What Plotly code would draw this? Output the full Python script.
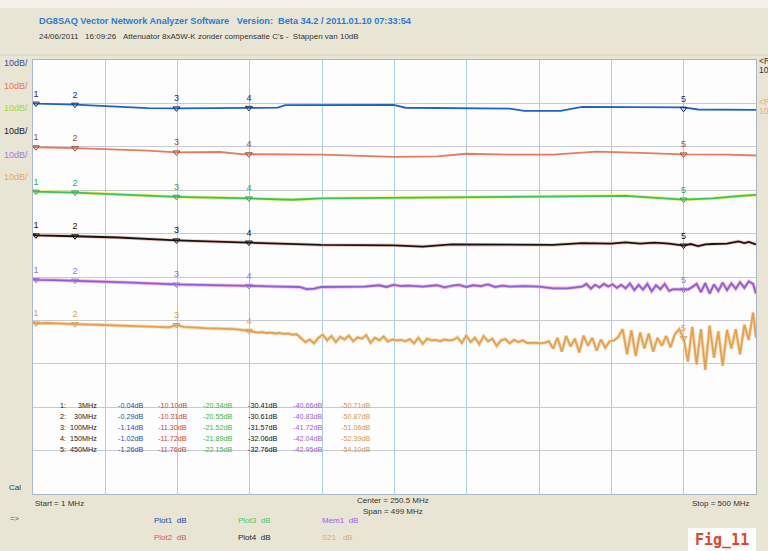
import plotly.graph_objects as go

# ---------------- data ----------------
marker_ids = ["1", "2", "3", "4", "5"]
marker_freq = [3, 30, 100, 150, 450]
marker_freq_text = ["3MHz", "30MHz", "100MHz", "150MHz", "450MHz"]

plot1_marker_db = [-0.04, -0.29, -1.14, -1.02, -1.26]
plot2_marker_db = [-10.10, -10.31, -11.30, -11.72, -11.76]
plot3_marker_db = [-20.34, -20.55, -21.52, -21.89, -22.15]
plot4_marker_db = [-30.41, -30.61, -31.57, -32.06, -32.76]
mem1_marker_db = [-40.66, -40.83, -41.72, -42.04, -42.95]
s21_marker_db = [-50.71, -50.87, -51.06, -52.39, -54.10]

plot1_freq = [1, 3, 30, 60, 80, 100, 130, 150, 170, 175, 250, 258, 330, 340, 365, 380, 450, 460, 500]
plot1_db = [0.0, -0.04, -0.29, -0.8, -1.1, -1.14, -1.15, -1.02, -0.97, -0.4, -0.35, -1.0, -1.2, -1.7, -1.7, -0.8, -0.9, -1.4, -1.5]

plot2_freq = [1, 3, 30, 60, 80, 100, 130, 145, 150, 200, 250, 280, 300, 330, 360, 390, 420, 450, 480, 500]
plot2_db = [-10.0, -10.1, -10.31, -10.6, -10.9, -11.3, -11.2, -11.7, -11.72, -11.8, -12.3, -12.2, -11.6, -11.8, -11.8, -11.1, -11.4, -11.76, -11.8, -12.0]

plot3_freq = [1, 3, 30, 50, 100, 150, 180, 200, 260, 330, 360, 410, 450, 470, 490, 500]
plot3_db = [-20.2, -20.34, -20.55, -20.8, -21.52, -21.89, -22.2, -21.9, -21.7, -21.6, -21.4, -21.3, -22.15, -21.9, -21.3, -21.1]

plot4_freq = [1, 3, 30, 60, 100, 150, 180, 200, 250, 270, 290, 330, 360, 380, 400, 410, 420, 430,
              440, 450, 455, 460, 465, 470, 480, 488, 492, 495, 500]
plot4_db = [-30.2, -30.41, -30.61, -30.9, -31.57, -32.06, -32.4, -32.6, -32.7, -33.0, -32.5, -32.6, -32.6, -32.2, -32.3, -32.0, -32.3, -32.1,
            -32.3, -32.76, -32.4, -32.9, -32.5, -32.4, -32.3, -31.8, -32.2, -31.9, -32.5]

mem1_freq = [1, 3, 15, 30, 50, 70, 100, 130, 150, 170, 185, 190, 195, 200, 230, 240, 245, 250, 255, 260,
             270, 280, 285, 290, 295, 300, 305, 310, 315, 320, 325, 330, 340, 350, 360, 370, 380, 383,
             386, 389, 392, 395, 398, 401, 404, 407, 410, 413, 416, 419, 422, 425, 428, 431, 434, 437,
             440, 443, 446, 450, 453, 456, 459, 462, 465, 468, 471, 474, 477, 480, 483, 486, 489, 492,
             495, 498, 500]
mem1_db = [-40.5, -40.66, -40.7, -40.83, -41.0, -41.3, -41.72, -42.0, -42.04, -42.2, -42.3, -42.8, -42.7, -42.3, -42.2, -41.9, -42.3, -41.8, -42.1, -42.0,
           -42.2, -41.9, -42.4, -42.0, -41.8, -42.3, -41.9, -42.1, -41.7, -42.3, -42.0, -42.2, -42.1, -42.2, -42.6, -42.6, -42.2, -41.6,
           -42.7, -41.8, -42.4, -41.6, -42.2, -41.7, -42.5, -41.8, -42.6, -41.5, -43.0, -41.8, -42.9, -41.6, -43.3, -41.9, -42.8, -41.6,
           -43.2, -42.8, -42.8, -42.95, -42.9, -42.3, -41.6, -43.5, -41.4, -43.8, -41.7, -43.2, -41.3, -43.0, -41.5, -42.7, -41.2, -42.5,
           -41.0, -41.6, -43.8]

s21_freq = [1, 3, 10, 20, 30, 45, 60, 80, 95, 100, 105, 120, 140,
            150, 153, 156, 159, 162, 165, 168, 171, 174, 177, 180, 183,
            186, 189, 192, 195, 198, 201, 204, 207, 210, 213, 216, 219, 222, 225, 228, 231, 234, 237, 240, 243, 246,
            249, 252, 255, 258, 261, 264, 267, 270, 273, 276, 279, 282, 285, 288, 291,
            294, 297, 300, 303, 306, 309, 312, 315, 318, 321, 324, 327, 330, 333, 336, 339, 342,
            345, 348, 351, 354, 357, 360, 363, 366, 369, 372, 375, 378, 381, 384, 387, 390, 393, 396, 399,
            402, 405, 408, 411, 414, 417, 420, 423, 426, 429, 432, 435, 438, 441, 444,
            447, 450, 453, 456, 459, 462, 465, 468, 471, 474, 477, 480, 483, 486, 489, 492, 495, 498, 500]
s21_db = [-50.4, -50.71, -50.6, -50.8, -50.87, -51.0, -51.2, -51.3, -51.6, -51.06, -51.5, -51.8, -52.0,
          -52.39, -52.6, -52.8, -52.7, -52.9, -52.8, -53.0, -52.9, -53.1, -53.0, -53.3, -53.2,
          -54.2, -55.0, -54.4, -55.3, -54.0, -53.3, -54.6, -53.6, -55.0, -53.8, -54.4, -53.5, -54.8, -53.9, -54.2, -53.4, -55.2, -54.0, -54.6, -53.7, -54.9,
          -54.4, -54.6, -54.5, -54.8, -54.3, -55.3, -54.0, -55.4, -54.2, -54.6, -54.5, -54.8, -54.4, -54.6, -54.5,
          -53.9, -55.2, -53.5, -55.0, -54.0, -55.5, -53.6, -54.8, -54.2, -55.9, -54.6, -54.3, -55.3, -54.5, -55.0, -54.6, -55.2,
          -55.2, -55.1, -55.3, -55.2, -54.8, -56.5, -54.0, -57.2, -53.6, -56.0, -54.2, -57.4, -53.5, -55.8, -54.0, -57.0, -54.4, -56.3, -54.8,
          -54.6, -53.8, -52.0, -57.8, -52.3, -58.2, -52.8, -56.5, -53.0, -57.2, -54.0, -55.8, -53.6, -56.2, -53.2,
          -52.0, -54.1, -59.5, -51.5, -60.2, -52.0, -61.4, -51.2, -58.6, -52.5, -60.5, -52.2, -56.5, -52.0, -57.8, -51.0, -54.5, -48.2, -54.0]

freq_start, freq_stop = 1, 500
db_top, db_bottom = 10, -90

# ---------------- layout constants ----------------
W, H = 768, 551
PL, PR, PT, PB = 33, 756, 60, 494
FONT = "Liberation Sans Narrow, Liberation Sans, Arial, sans-serif"


def fx(px):
    return (px - PL) / (PR - PL)


def fy(py):
    return (PB - py) / (PB - PT)


annotations = []


def ann(text, px, py, color, size=9, xanchor="left", bold=False, font=FONT):
    if bold:
        text = "<b>" + text + "</b>"
    annotations.append(dict(text=text, x=fx(px), y=fy(py), xref="paper", yref="paper",
                            xanchor=xanchor, yanchor="middle", showarrow=False,
                            font=dict(color=color, size=size, family=font)))


traces = [
    # freq, db, marker db, line color, halo color, marker label color
    (plot1_freq, plot1_db, plot1_marker_db, "#1f62c8", None, "#1c2c60"),
    (plot2_freq, plot2_db, plot2_marker_db, "#e67b5e", None, "#a04a38"),
    (plot3_freq, plot3_db, plot3_marker_db, "#3cbf6a", "#eef27a", "#2fa860"),
    (plot4_freq, plot4_db, plot4_marker_db, "#151515", "#f2c6c0", "#111111"),
    (mem1_freq, mem1_db, mem1_marker_db, "#8a62d6", "#f4b0dc", "#9a70dc"),
    (s21_freq, s21_db, s21_marker_db, "#e2a253", "#f7d8b0", "#d8a050"),
]

fig = go.Figure()
for fr, db, mdb, col, halo, mcol in traces:
    if halo:
        fig.add_trace(go.Scatter(x=fr, y=db, mode="lines", line=dict(color=halo, width=3.5),
                                 hoverinfo="skip", showlegend=False))
    fig.add_trace(go.Scatter(x=fr, y=db, mode="lines", line=dict(color=col, width=1.8),
                             showlegend=False))
for fr, db, mdb, col, halo, mcol in traces:
    fig.add_trace(go.Scatter(x=marker_freq, y=mdb, mode="markers+text", text=marker_ids,
                             textposition="top center",
                             textfont=dict(color=mcol, size=9, family=FONT),
                             marker=dict(symbol="triangle-down-open", size=6,
                                         color=mcol, line=dict(color=mcol, width=1)),
                             showlegend=False, cliponaxis=False))

# header
ann("DG8SAQ Vector Network Analyzer Software&nbsp;&nbsp;&nbsp;Version:&nbsp;&nbsp;Beta 34.2 / 2011.01.10 07:33:54",
    37, 21, "#2b7bd4", size=9.2, bold=True)
ann("24/06/2011&nbsp;&nbsp;&nbsp;16:09:26&nbsp;&nbsp;&nbsp;Attenuator 8xA5W-K zonder compensatie C's -&nbsp;&nbsp;Stappen van 10dB",
    37, 37, "#333333", size=8)

# scale labels on the left
scale_colors = ["#3a4f9a", "#e07a5c", "#a6d64a", "#222222", "#a77ad8", "#e8a860"]
scale_rows = [63, 86, 108, 131, 155, 177]
for c, r in zip(scale_colors, scale_rows):
    ann("10dB/", 2, r, c, size=9)

# right side reference labels (cut by the frame edge)
ann("&lt;Ref", 757, 61, "#333333", size=8.5)
ann("10dB", 757, 70, "#333333", size=8.5)
ann("&lt;Ref", 757, 102, "#e8b070", size=8.5)
ann("10dB", 757, 111, "#e8b070", size=8.5)

# marker table
table_rows = [405, 416, 427, 438, 449]
col_right = [145, 189, 234, 279, 324, 372]
col_colors = ["#2a4cb0", "#c24a40", "#38b84c", "#111111", "#a060e0", "#d49a50"]
col_data = [plot1_marker_db, plot2_marker_db, plot3_marker_db, plot4_marker_db, mem1_marker_db, s21_marker_db]
for i, r in enumerate(table_rows):
    ann(marker_ids[i] + ":", 58, r, "#222222", size=7.2)
    ann(marker_freq_text[i], 99, r, "#222222", size=7.2, xanchor="right")
    for c in range(6):
        ann("%.2fdB" % col_data[c][i], col_right[c], r, col_colors[c], size=7.2, xanchor="right")

# bottom texts
ann("Cal", 7, 487, "#333333", size=8)
ann("Start = 1 MHz", 33, 503, "#333333", size=8)
ann("Center = 250.5 MHz", 393, 500, "#333333", size=8, xanchor="center")
ann("Span = 499 MHz", 393, 511, "#333333", size=8, xanchor="center")
ann("Stop = 500 MHz", 752, 503, "#333333", size=8, xanchor="right")
ann("=&gt;", 8, 518, "#555555", size=7.5)

ann("Plot1&nbsp;&nbsp;dB", 152, 520, "#2a3f9e", size=8)
ann("Plot2&nbsp;&nbsp;dB", 152, 537, "#d05a48", size=8)
ann("Plot3&nbsp;&nbsp;dB", 236, 520, "#4cc85a", size=8)
ann("Plot4&nbsp;&nbsp;dB", 236, 537, "#222222", size=8)
ann("Mem1&nbsp;&nbsp;dB", 320, 520, "#a060e0", size=8)
ann("S21&nbsp;&nbsp;&nbsp;dB", 320, 537, "#e8a860", size=8)

ann("Fig_11", 722, 540, "#e0452a", size=15, xanchor="center", bold=True,
    font="DejaVu Sans Mono, monospace")

shapes = [
    dict(type="rect", xref="paper", yref="paper", x0=fx(688), x1=fx(756), y0=fy(528), y1=fy(551),
         fillcolor="#ffffff", line=dict(width=0), layer="below"),
    dict(type="rect", xref="paper", yref="paper", x0=fx(-40), x1=fx(800), y0=fy(0), y1=fy(8),
         fillcolor="#f3f1ea", line=dict(width=0), layer="below"),
    dict(type="line", xref="paper", yref="paper", x0=fx(0), x1=fx(768), y0=fy(55), y1=fy(55),
         line=dict(color="#d6d2c2", width=1), layer="below"),
]

fig.update_layout(
    width=W, height=H,
    margin=dict(l=PL, r=W - PR, t=PT, b=H - PB, pad=0),
    paper_bgcolor="#e9e5d5",
    plot_bgcolor="#fdfdfd",
    showlegend=False,
    annotations=annotations,
    shapes=shapes,
    xaxis=dict(range=[freq_start, freq_stop], tick0=freq_start, dtick=(freq_stop - freq_start) / 10,
               showticklabels=False, ticks="", showgrid=True, gridcolor="#a9cfe4", gridwidth=1,
               zeroline=False, showline=True, linecolor="#a9b8c4", mirror=True, fixedrange=True),
    yaxis=dict(range=[db_bottom, db_top], tick0=db_bottom, dtick=10,
               showticklabels=False, ticks="", showgrid=True, gridcolor="#c8cad2", gridwidth=1,
               zeroline=False, showline=True, linecolor="#a9b8c4", mirror=True, fixedrange=True),
)

fig.write_html("out.html",
               config={"displayModeBar": False},
               post_script="document.body.style.margin='0px';document.body.style.padding='0px';"
                           "document.body.style.overflow='hidden';")
